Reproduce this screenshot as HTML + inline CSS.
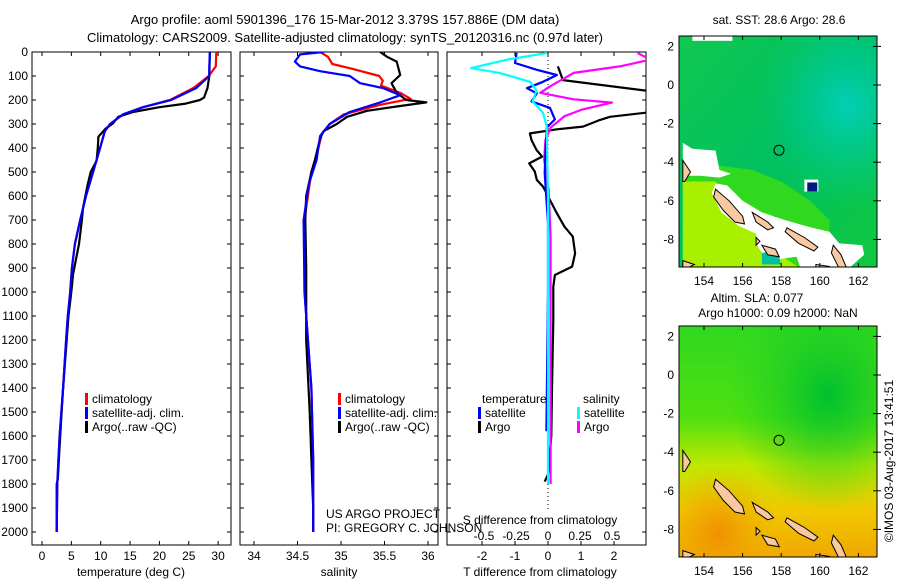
<!DOCTYPE html>
<html><head><meta charset="utf-8"><style>
body{margin:0;background:#fff;}
svg{display:block;font-family:"Liberation Sans",sans-serif;}
text{font-size:12px;fill:#000;}
</style></head><body>
<svg id="fig" width="900" height="580" viewBox="0 0 900 580">
<defs>
<clipPath id="c1"><rect x="32" y="52" width="199" height="493"/></clipPath>
<clipPath id="c2"><rect x="240" y="52" width="198" height="493"/></clipPath>
<clipPath id="c3"><rect x="447" y="52" width="199" height="493"/></clipPath>
<clipPath id="m1"><rect x="679" y="36" width="198" height="231"/></clipPath>
<clipPath id="m2"><rect x="679" y="326" width="198" height="231"/></clipPath>
<linearGradient id="g1" x1="0" y1="0" x2="1" y2="1"><stop offset="0" stop-color="#10c850"/><stop offset="0.5" stop-color="#00c060"/><stop offset="1" stop-color="#10c840"/></linearGradient>
<radialGradient id="g1c" cx="0.85" cy="0.3" r="0.45"><stop offset="0" stop-color="#00d0b8"/><stop offset="1" stop-color="#00c890" stop-opacity="0"/></radialGradient>
<linearGradient id="g2" x1="0" y1="0" x2="0" y2="1"><stop offset="0" stop-color="#30d820"/><stop offset="0.4" stop-color="#50e010"/><stop offset="0.6" stop-color="#c0e800"/><stop offset="0.8" stop-color="#f0c800"/><stop offset="1" stop-color="#f0a800"/></linearGradient>
<radialGradient id="g2c" cx="0.75" cy="0.3" r="0.5"><stop offset="0" stop-color="#00c030"/><stop offset="1" stop-color="#20d020" stop-opacity="0"/></radialGradient>
<radialGradient id="g2o" cx="0.2" cy="0.9" r="0.3"><stop offset="0" stop-color="#f09000"/><stop offset="1" stop-color="#f0b000" stop-opacity="0"/></radialGradient>
</defs>
<text x="345" y="24" text-anchor="middle" style="font-size:13px">Argo profile: aoml 5901396_176 15-Mar-2012 3.379S 157.886E (DM data)</text>
<text x="345" y="42" text-anchor="middle" style="font-size:13px">Climatology: CARS2009. Satellite-adjusted climatology: synTS_20120316.nc (0.97d later)</text>
<g id="axes"></g>
<g id="series"></g>
<g id="maps"></g>
</svg>
<script>
// ---------- DATA ----------
const depthTicks=[0,100,200,300,400,500,600,700,800,900,1000,1100,1200,1300,1400,1500,1600,1700,1800,1900,2000];
const tempTicks=[0,5,10,15,20,25,30];
const salTicks=[34,34.5,35,35.5,36];
const tdiffTicks=[-2,-1,0,1,2];
const sdiffTicks=[-0.5,-0.25,0,0.25,0.5];
const sdiffTickLabels=["-0.5","-0.25","0","0.25","0.5"];

const tArgoDepth=[0,100,150,190,200,215,230,250,270,297,320,353,400,453,500,550,647,700,800,925,1000,1103,1200,1400,1600,1780,1800,1900,2000];
const tArgoVal=[28.6,28.5,28.2,27.6,26.9,24.5,20,15.5,13,12.1,10.8,9.6,9.5,9.3,8.3,7.8,7.0,6.8,6.3,5.3,5.0,4.5,4.2,3.6,3.1,2.7,2.5,2.5,2.5];
const tClimDepth=[0,60,100,150,200,230,260,300,330,400,500,600,700,800,900,1000,1100,1200,1400,1600,1700,1800,2000];
const tClimVal=[29.7,29.6,28.4,25.8,21.8,17.2,13.8,11.6,10.7,9.9,8.7,7.5,6.5,5.6,5.1,4.8,4.4,4.1,3.6,3.0,2.8,2.6,2.5];
const tSatVal=[28.6,28.5,28.5,26.3,22.0,17.2,13.8,11.6,10.7,9.9,8.7,7.5,6.5,5.6,5.1,4.8,4.4,4.1,3.6,3.0,2.8,2.6,2.5];

const sArgoDepth=[0,20,40,96,130,170,200,210,225,245,270,300,330,360,450,500,600,700,900,1200,1500,1800,1900,2000];
const sArgoVal=[35.45,35.53,35.64,35.68,35.58,35.64,35.75,35.98,35.68,35.3,35.07,34.95,34.8,34.76,34.7,34.66,34.6,34.59,34.6,34.6,34.64,34.67,34.68,34.68];
const sClimDepth=[0,20,50,70,100,120,140,170,195,220,260,300,340,400,500,600,700,1000,1400,1700,2000];
const sClimVal=[34.76,34.85,34.9,35.13,35.44,35.48,35.46,35.68,35.8,35.45,35.03,34.87,34.78,34.74,34.66,34.62,34.58,34.58,34.66,34.68,34.68];
const sSatDepth=[0,10,40,60,80,100,130,150,180,210,250,300,350,450,550,700,1000,1400,1700,2000];
const sSatVal=[34.8,34.53,34.47,34.53,34.76,35.1,35.22,35.48,35.68,35.45,35.1,34.87,34.76,34.72,34.63,34.57,34.58,34.66,34.68,34.68];

const dtArgoDepth=[60,117,165,249,270,283,311,322,339,367,408,436,464,498,533,561,589,617,672,728,769,839,894,929,978,1117,1400,1600,1760,1790];
const dtArgoVal=[0.3,0.45,3.2,3.2,1.88,1.58,1.06,0.27,-0.55,-0.5,-0.35,-0.18,-0.57,-0.4,-0.34,-0.15,-0.04,0.06,0.27,0.5,0.75,0.82,0.73,0.21,0.16,0.16,0.12,0.1,0,-0.1];
const dsArgoDepth=[4,32,60,87,142,170,197,211,239,267,315,367,450,575,769,1200,1800];
const dsArgoVal=[0.7,0.8,0.56,0.2,0.02,-0.06,0.2,0.5,0.27,0.13,0.02,-0.02,-0.03,0.005,0.02,0.02,0.02];
const dtSatDepth=[4,46,74,96,124,151,172,206,233,281,315,503,714,1000,1580];
const dtSatVal=[-0.95,-1.0,-0.34,0.27,-0.15,-0.64,-0.34,-0.5,0.06,0.21,-0.04,-0.1,0,0,-0.05];
const dsSatDepth=[4,32,67,87,124,160,206,253,308,600,1000,1400,1800];
const dsSatVal=[-0.01,-0.32,-0.6,-0.38,-0.14,-0.09,-0.12,-0.04,-0.01,0,0,0,0];

// ---------- SCALES ----------
const yD=d=>52+0.24*d;
const xT=t=>42+5.87*t;
const xS=s=>254+87*(s-34);
const xDT=t=>548+33*t;
const xDS=s=>548+128*s;

const NS="http://www.w3.org/2000/svg";
function mk(tag,attrs,parent){const e=document.createElementNS(NS,tag);for(const k in attrs)e.setAttribute(k,attrs[k]);parent.appendChild(e);return e;}
const axes=document.getElementById('axes'), ser=document.getElementById('series'), maps=document.getElementById('maps');

const panels=[[32,231,"temperature-panel"],[240,438,"salinity-panel"],[447,646,"difference-panel"]];
panels.forEach(p=>{
  const r=mk('rect',{x:p[0],y:52,width:p[1]-p[0],height:493,fill:'none',stroke:'#000','stroke-width':1},axes);
  
  
  depthTicks.forEach(d=>{
    mk('line',{x1:p[0],x2:p[0]+4,y1:yD(d),y2:yD(d),stroke:'#000'},axes);
    mk('line',{x1:p[1]-4,x2:p[1],y1:yD(d),y2:yD(d),stroke:'#000'},axes);
  });
});
depthTicks.forEach(d=>{
  const t=mk('text',{x:28,y:yD(d)+4,'text-anchor':'end'},axes);t.textContent=d;
  
  
});
function xticks(vals,labels,f,y,name){
  vals.forEach((v,i)=>{
    const x=f(v);
    mk('line',{x1:x,x2:x,y1:52,y2:56,stroke:'#000'},axes);
    mk('line',{x1:x,x2:x,y1:541,y2:545,stroke:'#000'},axes);
    const t=mk('text',{x:x,y:y,'text-anchor':'middle'},axes);t.textContent=labels[i];
    
    
  });
}
xticks(tempTicks,tempTicks,xT,560,'temperature-tick-label');
xticks(salTicks,salTicks,xS,560,'salinity-tick-label');
xticks(tdiffTicks,tdiffTicks,xDT,560,'t-diff-tick-label');
sdiffTicks.forEach((v,i)=>{const t=mk('text',{x:xDS(v),y:540,'text-anchor':'middle'},axes);t.textContent=sdiffTickLabels[i];
  
  });
function label(x,y,s,name,anchor){const t=mk('text',{x:x,y:y,'text-anchor':anchor||'start'},axes);t.textContent=s;
  
  return t;}
label(131,576,'temperature (deg C)','temperature-axis-title','middle');
label(339,576,'salinity','salinity-axis-title','middle');
label(540,576,'T difference from climatology','t-diff-axis-title','middle');
label(540,524,'S difference from climatology','s-diff-axis-title','middle');
label(326,518,'US ARGO PROJECT','project-label');
label(326,532,'PI: GREGORY C. JOHNSON','pi-label');
mk('line',{x1:548,x2:548,y1:52,y2:510,stroke:'#000','stroke-dasharray':'1,3'},axes);

function line(ds,vs,fx,color,clip,name){
  const pts=ds.map((d,i)=>fx(vs[i]).toFixed(1)+','+yD(d).toFixed(1)).join(' ');
  const p=mk('polyline',{points:pts,fill:'none',stroke:color,'stroke-width':2.2,'clip-path':'url(#'+clip+')','stroke-linejoin':'round'},ser);
  
  
}
line(tClimDepth,tClimVal,xT,'#ff0000','c1','temp-climatology-line');
line(tArgoDepth,tArgoVal,xT,'#000','c1','temp-argo-line');
line(tClimDepth,tSatVal,xT,'#0000ff','c1','temp-satellite-line');
line(sClimDepth,sClimVal,xS,'#ff0000','c2','sal-climatology-line');
line(sArgoDepth,sArgoVal,xS,'#000','c2','sal-argo-line');
line(sSatDepth,sSatVal,xS,'#0000ff','c2','sal-satellite-line');
line(dtArgoDepth,dtArgoVal,xDT,'#000','c3','tdiff-argo-line');
line(dsArgoDepth,dsArgoVal,xDS,'#ff00ff','c3','sdiff-argo-line');
line(dtSatDepth,dtSatVal,xDT,'#0000ff','c3','tdiff-satellite-line');
line(dsSatDepth,dsSatVal,xDS,'#00ffff','c3','sdiff-satellite-line');

function legend(x,y,color,txt,name){
  mk('rect',{x:x,y:y-10,width:3,height:12,fill:color},axes);
  label(x+7,y,txt,name);
}
[[85,'temp'],[338,'sal']].forEach(a=>{
  legend(a[0],403,'#ff0000','climatology',a[1]+'-legend-climatology');
  legend(a[0],417,'#0000ff','satellite-adj. clim.',a[1]+'-legend-satellite');
  legend(a[0],431,'#000','Argo(..raw -QC)',a[1]+'-legend-argo');
});
label(482,403,'temperature','diff-legend-temperature-header');
legend(478,417,'#0000ff','satellite','diff-legend-t-satellite');
legend(478,431,'#000','Argo','diff-legend-t-argo');
label(583,403,'salinity','diff-legend-salinity-header');
legend(577,417,'#00ffff','satellite','diff-legend-s-satellite');
legend(577,431,'#ff00ff','Argo','diff-legend-s-argo');

// ---------- MAPS ----------
const lonTicks=[154,156,158,160,162];
const latTicks=[2,0,-2,-4,-6,-8];
const mX=lon=>704+(lon-154)*19.3;
function mapFrame(oy,clip,name,kind){
  const mY=lat=>oy+85-lat*19.3;
  const g=mk('g',{'clip-path':'url(#'+clip+')'},maps);
  
  
  const P=arr=>arr.map(p=>mX(p[0]).toFixed(1)+','+mY(p[1]).toFixed(1)).join(' ');
  if(kind==1){
    mk('rect',{x:679,y:oy+36,width:198,height:231,fill:'url(#g1)'},g);
    mk('rect',{x:679,y:oy+36,width:198,height:231,fill:'url(#g1c)'},g);
    mk('polygon',{points:P([[152.9,-4.0],[155,-4.2],[156.5,-4.4],[158,-5.0],[159.5,-6.0],[160.5,-7],[160.5,-9.5],[152.9,-9.5]]),fill:'#30d820'},g);
    mk('polygon',{points:P([[152.9,-5.0],[154.6,-5.0],[154.9,-6],[156.5,-7.3],[157,-8.2],[159,-9.5],[152.9,-9.5]]),fill:'#a8f000'},g);
    mk('polygon',{points:P([[152.9,-3.0],[153.4,-3.3],[154.6,-3.4],[154.8,-4.4],[155.4,-4.6],[154.8,-4.8],[153.8,-4.7],[152.9,-4.7]]),fill:'#fff'},g);
    mk('polygon',{points:P([[154.6,-5.1],[155.2,-5.2],[156,-6.0],[157.0,-6.6],[158.2,-7.0],[159.6,-7.4],[160.5,-7.6],[161,-8.2],[162.2,-8.3],[162.3,-8.8],[161.5,-9.5],[159.0,-9.5],[158.8,-8.9],[157.3,-9.1],[156.8,-8.4],[156.7,-7.7],[155.8,-7.3],[154.9,-6.6],[154.4,-5.6]]),fill:'#fff'},g);
    mk('rect',{x:mX(153.4),y:mY(2.6),width:40,height:6,fill:'#fff'},g);
    mk('rect',{x:mX(159.2),y:mY(-4.9),width:14,height:12,fill:'#fff'},g);
    mk('rect',{x:mX(159.35),y:mY(-5.05),width:10,height:9,fill:'#001880'},g);
    mk('polygon',{points:P([[157.0,-8.7],[157.8,-8.6],[158.0,-9.3],[157,-9.3]]),fill:'#00c0a0'},g);
  } else {
    mk('rect',{x:679,y:oy+36,width:198,height:231,fill:'url(#g2)'},g);
    mk('rect',{x:679,y:oy+36,width:198,height:231,fill:'url(#g2c)'},g);
    mk('rect',{x:679,y:oy+36,width:198,height:231,fill:'url(#g2o)'},g);
  }
  const isl=[
    [[154.6,-5.4],[155.3,-6.0],[156.0,-6.8],[156.1,-7.2],[155.6,-7.1],[155.0,-6.5],[154.5,-5.8]],
    [[156.5,-6.6],[157.3,-7.1],[157.6,-7.4],[157.3,-7.5],[156.7,-7.1]],
    [[158.3,-7.4],[159.2,-7.9],[159.9,-8.4],[159.7,-8.6],[158.9,-8.2],[158.2,-7.6]],
    [[160.7,-8.3],[161.1,-8.8],[161.4,-9.5],[161.0,-9.5],[160.6,-8.7]],
    [[157.0,-8.3],[157.7,-8.5],[157.9,-8.9],[157.3,-8.8]],
    [[156.7,-7.9],[156.9,-8.1],[156.7,-8.3]],
    [[152.9,-3.9],[153.3,-4.5],[153.0,-5.0],[152.9,-5.0]],
    [[159.8,-9.3],[160.5,-9.4],[160.6,-9.6],[159.8,-9.6]],
    [[152.9,-9.1],[153.5,-9.3],[152.9,-9.6]]
  ];
  isl.forEach(a=>{const p=mk('polygon',{points:P(a),fill:'#f8c8a0',stroke:'#000','stroke-width':1},g);
    
    });
  const c=mk('circle',{cx:mX(157.886),cy:mY(-3.379),r:5,fill:'none',stroke:'#000','stroke-width':1},maps);
  
  
  mk('rect',{x:679,y:oy+36,width:198,height:231,fill:'none',stroke:'#000'},maps);
  lonTicks.forEach(l=>{
    mk('line',{x1:mX(l),x2:mX(l),y1:oy+36,y2:oy+40,stroke:'#000'},maps);
    mk('line',{x1:mX(l),x2:mX(l),y1:oy+263,y2:oy+267,stroke:'#000'},maps);
    const t=mk('text',{x:mX(l),y:oy+285,'text-anchor':'middle'},maps);t.textContent=l;
    
    
  });
  latTicks.forEach(l=>{
    mk('line',{x1:873,x2:881,y1:mY(l),y2:mY(l),stroke:'#000'},maps);
    const t=mk('text',{x:674,y:mY(l)+4,'text-anchor':'end'},maps);t.textContent=l;
    
    
  });
}
mapFrame(0,'m1','sst-map',1);
mapFrame(290,'m2','sla-map',2);
function mtext(x,y,s,name,extra){const t=mk('text',Object.assign({x:x,y:y,'text-anchor':'middle'},extra||{}),maps);t.textContent=s;
  
  }
mtext(779,24,'sat. SST: 28.6 Argo: 28.6','sst-map-title');
mtext(757,302,'Altim. SLA: 0.077','sla-map-title');
mtext(778,317,'Argo h1000: 0.09 h2000: NaN','sla-map-subtitle');
mtext(893,461,'©IMOS 03-Aug-2017 13:41:51','timestamp-label',{transform:'rotate(-90 893 461)'});
</script>
</body></html>
